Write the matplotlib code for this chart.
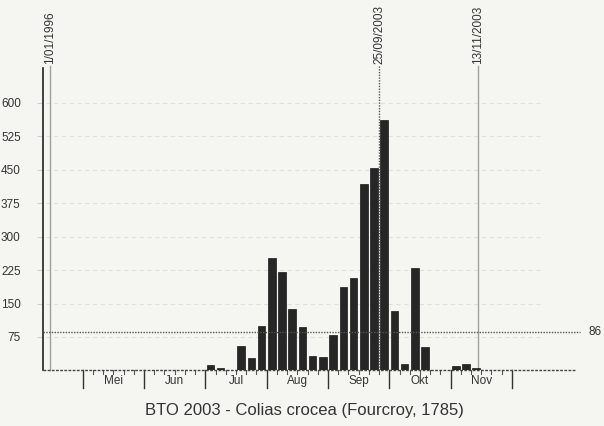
import matplotlib
matplotlib.use("Agg")
import matplotlib.pyplot as plt

# ---- data ----
months = ["Mei", "Jun", "Jul", "Aug", "Sep", "Okt", "Nov"]
# counts per 5-day period (6 periods per month), May..Nov
mei = [0, 2, 0, 0, 0, 0]
jun = [0, 0, 2, 0, 0, 2]
jul = [13, 6, 0, 54, 27, 99]
aug = [253, 220, 137, 97, 33, 31]
sep = [79, 187, 207, 418, 453, 561]
okt = [133, 15, 229, 52, 0, 0]
nov = [9, 15, 6, 0, 0, 0]
series = mei + jun + jul + aug + sep + okt + nov
yticks = [75, 150, 225, 300, 375, 450, 525, 600]
avg_value = 86
avg_label = "86"
vlines = [(-3.2, "1/01/1996", "solid"), (29.0, "25/09/2003", "dotted"), (38.65, "13/11/2003", "solid")]
title = "BTO 2003 - Colias crocea (Fourcroy, 1785)"

plt.rcParams['font.family'] = ['Liberation Sans', 'DejaVu Sans']

W, H = 604, 426
fig = plt.figure(figsize=(W / 100, H / 100), dpi=100, facecolor='#f5f5f1')

# pixel geometry
x0px, pxper = 82.7, 10.22   # x pixel of 1 May, px per period
base_px, ypx = 370.4, 0.4457
left_px, right_px, top_px = 43, 575, 68
xl = (left_px - x0px) / pxper
xr = (right_px - x0px) / pxper
yt = (base_px - top_px) / ypx

ax = fig.add_axes([left_px / W, 1 - base_px / H, (right_px - left_px) / W, (base_px - top_px) / H])
ax.set_facecolor('none')
ax.set_xlim(xl, xr)
ax.set_ylim(0, yt)
for s in ax.spines.values():
    s.set_visible(False)

# grid
for v in yticks:
    ax.plot([xl - 0.5, 44.7], [v, v], color='#e0e0dc', lw=0.8, ls=(0, (4, 3)), clip_on=False, zorder=1)

# bars
pos = [i + 0.5 for i in range(len(series))]
ax.bar(pos, series, width=0.74, color='#262626', edgecolor='#1a1a1a', lw=0.5, zorder=3)

# left axis & baseline
ax.plot([xl, xl], [0, yt], color='#222222', lw=1.2, zorder=4, clip_on=False)
ax.plot([xl, xr], [0, 0], color='#444444', lw=1.0, ls=(0, (2, 1)), zorder=4, clip_on=False)

# x ticks
tick_major = 18 / ypx
tick_minor = 4 / ypx
for i in range(0, 6 * len(months) + 1):
    if i % 6 == 0:
        ax.plot([i, i], [0, -tick_major], color='#333333', lw=1.0, clip_on=False)
    else:
        ax.plot([i, i], [0, -tick_minor], color='#555555', lw=0.8, clip_on=False)
for k, m in enumerate(months):
    ax.text(6 * k + 3, -11 / ypx, m, ha='center', va='center', fontsize=8.5, color='#333333')

# y tick labels
ax.set_xticks([])
ax.set_yticks(yticks)
ax.set_yticklabels([str(v) for v in yticks], fontsize=8.5, color='#333333')
ax.tick_params(axis='y', length=4, color='#d0d0d0', pad=12)

# vertical reference lines
for p, lab, st in vlines:
    if st == 'dotted':
        ax.plot([p, p], [0, (base_px - 66) / ypx], color='#555555', lw=1.0, ls=(0, (1, 1)), clip_on=False, zorder=5)
    else:
        ax.plot([p, p], [0, (base_px - 66) / ypx], color='#a0a0a0', lw=1.0, clip_on=False, zorder=2)
    ax.text(p, (base_px - 64) / ypx, lab, rotation=90, ha='center', va='bottom', fontsize=8.5,
            color='#333333', clip_on=False)

# average line
ax.plot([xl, (580 - x0px) / pxper], [avg_value, avg_value], color='#555555', lw=1.0,
        ls=(0, (1, 1)), clip_on=False, zorder=5)
ax.text((595 - x0px) / pxper, avg_value, avg_label, ha='center', va='center', fontsize=8.5, color='#333333')

fig.text(304 / W, 1 - 410 / H, title, ha='center', va='center', fontsize=12, color='#333333')

fig.savefig('out.png', dpi=100, facecolor=fig.get_facecolor())
